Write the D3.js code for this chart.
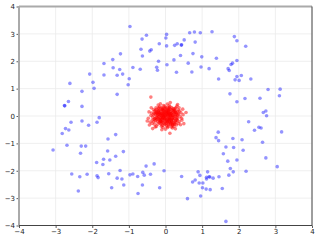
<!DOCTYPE html>
<html>
<head>
<meta charset="utf-8">
<script src="https://cdn.jsdelivr.net/npm/d3@7"></script>
<style>
  html, body { margin: 0; padding: 0; background: #fff; }
  svg { display: block; }
  .tick text { font-family: "DejaVu Sans", sans-serif; font-size: 7px; fill: #222; }
</style>
</head>
<body>
<div id="chart"></div>
<script>
// ticks on both axes
const xTicks = [-4, -3, -2, -1, 0, 1, 2, 3, 4];
const yTicks = [-4, -3, -2, -1, 0, 1, 2, 3, 4];

// outer ring (blue)
const ringPoints = [
  [-0.97,3.27],[-0.52,2.95],[-0.64,2.81],[-0.17,2.64],[-0.67,2.44],[-0.39,2.42],[-0.43,2.37],[-0.63,2.19],
  [-1.23,2.27],[-1.44,2.06],[-1.68,1.92],[-0.19,2.00],[-1.43,1.76],[-1.25,1.70],[-0.89,1.77],[-0.69,1.71],
  [-0.24,1.78],[-0.22,1.67],[-2.07,1.53],[-1.68,1.50],[-1.32,1.49],[-1.17,1.53],[-0.99,1.36],[-1.98,1.23],
  [-2.61,1.19],[-1.02,1.14],[-1.95,1.01],[-2.28,0.90],[-1.32,0.79],[-2.65,0.53],[-2.75,0.37],[-2.76,0.38],
  [-2.28,0.35],[-1.81,-0.06],
  [0.03,2.98],[0.01,2.85],[0.03,2.56],[0.66,3.04],[0.79,3.07],[0.95,3.04],[1.27,3.08],[0.51,2.78],
  [0.81,2.70],[0.25,2.58],[0.32,2.64],[0.43,2.59],[0.44,2.60],[1.88,2.90],[1.95,2.75],[2.19,2.55],
  [0.41,2.21],[0.75,2.28],[0.99,2.16],[1.39,2.11],[0.23,2.05],[0.62,1.93],[0.04,1.87],[0.97,1.79],
  [1.19,1.73],[1.95,2.03],[1.83,1.93],[1.79,1.88],[1.71,1.73],[1.74,1.66],[0.30,1.60],[0.72,1.61],
  [1.45,1.35],[1.95,1.44],[2.07,1.48],[1.90,1.32],[2.01,1.30],[2.33,1.35],[2.80,0.97],[3.13,0.98],
  [3.11,0.74],[1.76,0.81],[2.17,0.64],[2.58,0.65],[1.95,0.52],[2.74,0.18],[2.67,0.13],[2.76,0.01],
  [-2.58,-0.23],[-2.28,-0.18],[-2.10,-0.34],[-1.87,-0.23],[-2.73,-0.46],[-2.64,-0.51],[-2.82,-0.64],[-1.57,-0.84],
  [-1.36,-0.68],[-2.69,-1.07],[-2.30,-1.10],[-2.18,-1.10],[-3.07,-1.24],[-2.32,-1.36],[-1.58,-1.28],[-1.15,-1.30],
  [-1.36,-1.47],[-1.69,-1.58],[-1.52,-1.61],[-1.88,-1.70],[-1.71,-1.77],[-0.53,-1.83],[-0.31,-1.75],[-1.24,-1.99],
  [-2.56,-2.12],[-2.14,-2.13],[-1.55,-2.11],[-0.97,-2.15],[-0.89,-2.12],[-0.62,-2.06],[-0.58,-2.16],[-0.41,-2.13],
  [-0.76,-2.21],[-2.34,-2.22],[-1.87,-2.18],[-1.84,-2.25],[-1.32,-2.27],[-1.19,-2.30],[-1.14,-2.52],[-0.63,-2.52],
  [-1.47,-2.62],[-2.38,-2.74],[-0.75,-2.83],[-0.16,-2.62],
  [2.27,-0.21],[2.55,-0.41],[2.61,-0.44],[2.43,-0.52],[3.17,-0.58],[1.44,-0.59],[1.38,-0.79],[1.45,-0.90],
  [1.84,-0.82],[2.09,-0.87],[2.65,-0.96],[1.65,-1.13],[1.86,-1.15],[2.12,-1.25],[1.58,-1.38],[2.74,-1.53],
  [1.70,-1.65],[1.95,-1.61],[3.05,-1.85],[1.77,-1.92],[1.85,-2.04],[2.20,-2.02],[-0.04,-2.00],[0.89,-2.04],
  [1.15,-2.04],[0.94,-2.17],[1.73,-2.16],[0.44,-2.21],[1.12,-2.24],[1.21,-2.23],[1.19,-2.22],[1.30,-2.27],
  [1.46,-2.22],[1.12,-2.30],[0.81,-2.34],[0.74,-2.41],[0.92,-2.45],[1.02,-2.45],[1.01,-2.62],[1.11,-2.67],
  [1.22,-2.69],[1.55,-2.65],[0.96,-2.92],[0.60,-3.02],[1.65,-3.85]
];

// inner cluster (red)
const corePoints = [
  [-0.02,0.05],[0.10,-0.08],[-0.15,0.12],[0.21,0.03],[-0.08,-0.18],[0.05,0.22],[0.30,-0.12],[-0.25,-0.05],[0.13,0.15],[-0.05,-0.02],
  [0.02,-0.25],[-0.18,0.26],[0.26,0.19],[-0.31,0.10],[0.08,-0.31],[-0.12,-0.29],[0.34,0.05],[0.17,-0.21],[-0.22,-0.20],[0.00,0.31],
  [-0.09,0.08],[0.07,0.02],[-0.03,-0.11],[0.15,-0.01],[-0.14,-0.07],[0.04,0.11],[0.22,-0.15],[-0.20,0.05],[0.11,0.27],[-0.27,0.20],
  [0.38,-0.20],[-0.36,-0.15],[0.28,0.30],[-0.06,0.38],[0.19,-0.35],[-0.30,-0.30],[0.42,0.12],[-0.40,0.02],[0.06,-0.42],[-0.16,0.34],
  [0.01,-0.06],[-0.11,0.01],[0.12,0.06],[-0.04,0.16],[0.09,-0.17],[-0.19,-0.12],[0.25,0.10],[-0.07,-0.24],[0.18,0.21],[-0.23,0.15],
  [0.31,-0.04],[-0.29,-0.09],[0.14,-0.28],[-0.10,0.22],[0.03,-0.36],[0.24,-0.26],[-0.33,0.24],[0.35,0.22],[-0.01,0.25],[0.20,-0.06],
  [-0.13,0.17],[0.06,-0.13],[-0.21,-0.01],[0.16,0.09],[-0.06,0.12],[0.09,0.18],[-0.17,-0.23],[0.27,-0.19],[-0.26,0.30],[0.33,0.15],
  [0.00,-0.19],[0.12,-0.11],[-0.12,-0.14],[0.23,0.25],[-0.24,0.09],[0.05,0.29],[-0.08,-0.34],[0.29,0.07],[-0.35,-0.04],[0.16,-0.40],
  [0.44,-0.08],[-0.42,-0.22],[0.37,0.30],[-0.20,0.40],[0.10,0.38],[-0.28,-0.40],[0.30,-0.33],[0.47,0.25],[-0.45,0.15],[0.00,-0.48],
  [0.08,0.06],[-0.03,0.03],[0.02,-0.15],[-0.10,-0.09],[0.14,0.01],[-0.16,0.06],[0.06,0.14],[0.19,-0.12],[-0.07,0.19],[0.11,-0.23],
  [-0.13,-0.20],[0.21,0.14],[-0.19,0.19],[0.27,-0.01],[-0.24,-0.13],[0.03,0.20],[0.13,-0.32],[-0.04,-0.27],[0.32,-0.15],[-0.33,0.04],
  [0.17,0.31],[-0.11,0.30],[0.25,-0.30],[-0.21,-0.30],[0.40,-0.02],[-0.38,0.11],[0.07,-0.38],[0.36,0.08],[-0.02,0.36],[0.26,0.26],
  [-0.05,0.07],[0.04,-0.03],[-0.01,-0.09],[0.09,0.10],[-0.12,0.10],[0.15,-0.14],[-0.08,-0.06],[0.18,0.04],[-0.18,-0.03],[0.01,0.17],
  [0.10,-0.20],[-0.15,-0.16],[0.22,0.20],[-0.25,0.24],[0.28,-0.24],[-0.02,-0.31],[0.33,-0.08],[-0.30,0.17],[0.14,0.24],[-0.09,0.27],
  [0.39,0.18],[-0.37,-0.27],[0.19,-0.44],[-0.14,0.45],[0.45,-0.15],[-0.47,-0.08],[0.05,0.44],[0.31,0.36],[-0.25,-0.38],[0.23,-0.38],
  [0.03,0.09],[-0.06,-0.05],[0.12,-0.04],[-0.14,0.03],[0.07,-0.10],[-0.02,0.13],[0.17,0.12],[-0.10,-0.22],[0.24,-0.09],[-0.22,0.11],
  [0.09,0.24],[-0.17,0.21],[0.20,-0.25],[-0.27,-0.17],[0.35,-0.27],[-0.03,0.28],[0.29,0.13],[-0.32,-0.21],[0.12,0.34],[-0.11,-0.37],
  [0.00,0.00],[0.05,-0.21],[-0.07,0.02],[0.16,-0.17],[-0.19,0.14],[0.26,0.05],[-0.15,-0.26],[0.08,0.30],[-0.28,-0.08],[0.21,-0.30],
  [0.48,0.05],[-0.50,-0.18],[0.33,0.42],[-0.39,0.30],[0.41,-0.32],[-0.10,-0.50],[0.13,0.49],[0.50,-0.28],[-0.44,-0.33],[0.27,-0.47],
  [0.06,0.04],[-0.04,-0.08],[0.14,0.09],[-0.12,0.05],[0.02,0.14],[0.11,-0.13],[-0.09,-0.13],[0.19,0.01],[-0.17,0.09],[0.04,-0.17],
  [0.23,-0.04],[-0.21,-0.08],[0.08,0.19],[-0.05,0.21],[0.16,-0.24],[-0.14,-0.19],[0.27,0.14],[-0.26,0.13],[0.01,-0.28],[0.20,0.26],
  [-0.01,0.02],[0.09,-0.04],[-0.07,0.09],[0.13,0.02],[-0.10,-0.03],[0.05,0.07],[0.17,-0.09],[-0.16,-0.11],[0.10,0.13],[-0.03,-0.15],
  [0.24,0.16],[-0.23,0.02],[0.07,-0.26],[-0.08,0.25],[0.29,-0.16],[-0.28,0.06],[0.18,-0.31],[-0.19,0.30],[0.32,0.02],[-0.31,-0.13],
  [-0.40,0.69],[0.56,0.13],[0.12,-0.63],[-0.35,-0.46],[-0.07,-0.42]
];

const width = 319;
const height = 241;
const margin = { top: 6.5, right: 7, bottom: 15.5, left: 19 };

const svg = d3.select("#chart")
    .append("svg")
    .attr("width", width)
    .attr("height", height);

const x = d3.scaleLinear().domain([-4, 4]).range([margin.left, width - margin.right]);
const y = d3.scaleLinear().domain([-4, 4]).range([height - margin.bottom, margin.top]);

// grid
svg.append("g")
    .selectAll("line.vx")
    .data(xTicks)
    .join("line")
    .attr("x1", d => x(d)).attr("x2", d => x(d))
    .attr("y1", y(-4)).attr("y2", y(4))
    .attr("stroke", "#ebebeb").attr("stroke-width", 0.8);

svg.append("g")
    .selectAll("line.hy")
    .data(yTicks)
    .join("line")
    .attr("x1", x(-4)).attr("x2", x(4))
    .attr("y1", d => y(d)).attr("y2", d => y(d))
    .attr("stroke", "#ebebeb").attr("stroke-width", 0.8);

const fmt = d => d < 0 ? "\u2212" + Math.abs(d) : String(d);

const xAxis = svg.append("g")
    .attr("transform", `translate(0,${y(-4)})`)
    .call(d3.axisBottom(x).tickValues(xTicks).tickFormat(fmt).tickSize(2.5).tickPadding(1.5));

const yAxis = svg.append("g")
    .attr("transform", `translate(${x(-4)},0)`)
    .call(d3.axisLeft(y).tickValues(yTicks).tickFormat(fmt).tickSize(2.5).tickPadding(1.5));

[xAxis, yAxis].forEach(g => {
    g.select(".domain").remove();
    g.selectAll(".tick line").attr("stroke", "#333").attr("stroke-width", 0.8);
});

// points
svg.append("g")
    .selectAll("circle")
    .data(ringPoints)
    .join("circle")
    .attr("cx", d => x(d[0]))
    .attr("cy", d => y(d[1]))
    .attr("r", 1.8)
    .attr("fill", "#0000ff")
    .attr("fill-opacity", 0.42);

svg.append("g")
    .selectAll("circle")
    .data(corePoints)
    .join("circle")
    .attr("cx", d => x(d[0]))
    .attr("cy", d => y(d[1]))
    .attr("r", 1.8)
    .attr("fill", "#ff0000")
    .attr("fill-opacity", 0.5);

// spines
svg.append("line")
    .attr("x1", x(-4)).attr("x2", x(-4)).attr("y1", y(-4)).attr("y2", y(4))
    .attr("stroke", "#aaa").attr("stroke-width", 2);
svg.append("line")
    .attr("x1", x(-4)).attr("x2", x(4)).attr("y1", y(4)).attr("y2", y(4))
    .attr("stroke", "#aaa").attr("stroke-width", 2);
svg.append("line")
    .attr("x1", x(4)).attr("x2", x(4)).attr("y1", y(-4)).attr("y2", y(4))
    .attr("stroke", "#444").attr("stroke-width", 1);
svg.append("line")
    .attr("x1", x(-4)).attr("x2", x(4)).attr("y1", y(-4)).attr("y2", y(-4))
    .attr("stroke", "#444").attr("stroke-width", 1);
</script>
</body>
</html>
